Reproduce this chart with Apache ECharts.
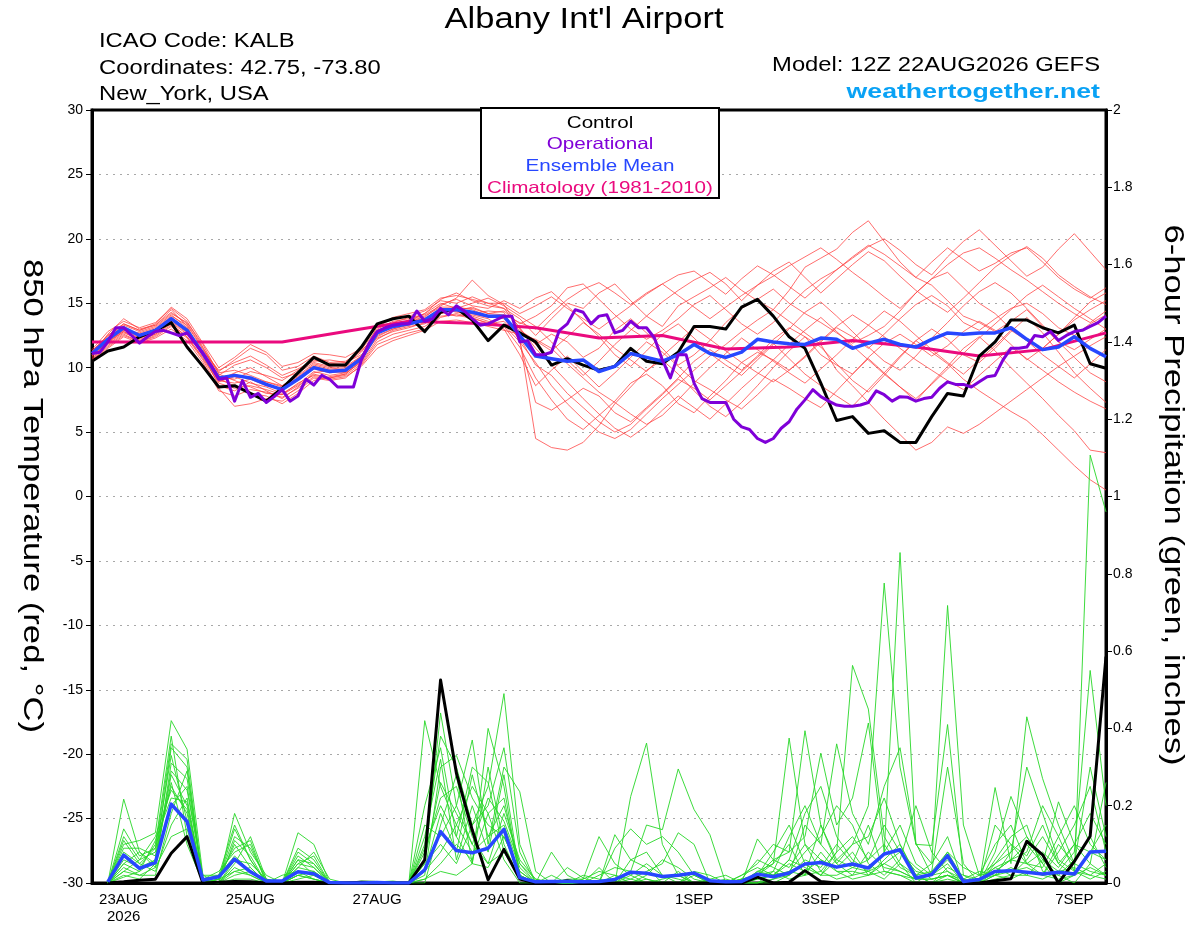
<!DOCTYPE html>
<html>
<head>
<meta charset="utf-8">
<script src="https://cdn.jsdelivr.net/npm/echarts@6/dist/echarts.min.js"></script>
<style>
html,body{margin:0;padding:0;background:#fff;}
#chart{width:1200px;height:927px;}
</style>
</head>
<body>
<div id="chart"></div>
<script>
// ---------- x axis (forecast hours since 12Z 22AUG2026) ----------
const xTickHours  = [12, 60, 108, 156, 228, 276, 324, 372];
const xTickLabels = ['23AUG\n2026', '25AUG', '27AUG', '29AUG', '1SEP', '3SEP', '5SEP', '7SEP'];

// ---------- main temperature lines (6-hourly, from hour 0) ----------
const controlTemp = [10.5,11.3,11.6,12.4,12.9,13.5,11.6,10.1,8.5,8.6,
  8.0,7.4,8.4,9.6,10.8,10.2,10.2,11.6,13.4,13.8,
  14.0,12.8,14.3,14.6,13.7,12.1,13.3,12.7,12.0,10.2,
  10.7,10.2,9.8,10.1,11.5,10.5,10.3,11.2,13.2,13.2,
  13.0,14.7,15.3,14.0,12.4,11.5,8.8,5.9,6.2,4.9,
  5.1,4.2,4.2,6.2,8.0,7.8,10.9,12.0,13.7,13.7,
  13.1,12.7,13.3,10.3,9.95];
const meanTemp = [11.1,12.2,13.1,12.5,12.9,13.8,12.9,11.1,9.2,9.4,
  9.2,8.7,8.3,9.1,10.0,9.7,9.8,10.7,12.7,13.2,
  13.4,13.7,14.5,14.5,14.3,14.0,14.0,12.5,10.9,10.7,
  10.5,10.6,9.7,10.1,11.1,10.8,10.5,11.0,11.8,11.1,
  10.8,11.2,12.2,12.0,11.85,11.8,12.3,12.2,11.5,11.9,
  12.2,11.8,11.6,12.2,12.7,12.6,12.7,12.7,13.1,12.2,
  11.4,11.6,12.4,11.5,10.85];
// operational run, 3-hourly from hour 0
const operTemp = [11.1,11.2,12.0,13.1,13.1,12.5,11.9,12.4,12.8,12.9,
  12.7,12.5,12.7,11.9,11.1,10.2,9.1,9.2,7.4,9.0,
  7.7,8.0,7.3,7.75,8.3,7.4,7.8,9.1,8.65,9.4,
  9.1,8.5,8.5,8.5,10.6,11.9,12.8,13.1,13.3,13.4,
  13.4,14.4,13.6,13.8,14.6,14.1,14.8,14.4,13.8,13.3,
  13.4,13.7,14.0,14.0,12.0,12.1,11.0,11.0,11.2,12.9,
  13.4,14.5,14.3,13.4,14.0,14.1,12.7,12.9,13.6,13.1,
  13.1,12.3,10.6,9.2,11.0,11.0,8.8,7.6,7.3,7.3,
  7.3,6.0,5.4,5.2,4.5,4.2,4.5,5.3,5.8,6.8,
  7.5,8.3,7.75,7.4,7.1,7.0,7.0,7.1,7.3,8.2,
  7.9,7.4,7.75,7.7,7.4,7.6,7.7,8.4,8.9,8.7,
  8.7,8.5,8.9,9.3,9.4,10.6,11.5,11.5,11.6,12.5,
  12.4,12.8,12.1,12.5,12.8,12.9,13.2,13.5,14.0];
// climatology (daily points)
const climHours = [0,24,48,72,96,120,144,168,192,216,240,264,288,312,336,360,384];
const climTemp  = [12.0,12.0,12.0,12.0,12.8,13.6,13.45,13.1,12.3,12.5,11.45,11.6,12.1,11.6,10.9,11.4,12.7];

// ---------- main precipitation lines (6-hourly, from hour 6) ----------
const controlPrecip = [0,0.003,0.007,0.01,0.077,0.12,0,0.002,0.004,0.003,
  0,0,0.002,0.002,0,0,0.002,0.001,0,0,
  0.06,0.525,0.284,0.137,0.008,0.087,0.01,0,0,0.006,
  0,0,0,0,0,0,0,0,0,0,
  0,0.015,0,0.002,0.032,0.004,0,0,0,0,
  0,0,0,0,0,0,0.006,0.011,0.108,0.073,
  0,0.056,0.121,0.586];
const meanPrecip = [0.003,0.072,0.038,0.053,0.204,0.159,0.008,0.016,0.062,0.029,
  0.005,0.005,0.029,0.024,0.001,0,0,0.001,0,0,
  0.034,0.133,0.084,0.078,0.09,0.139,0.014,0.003,0.004,0.004,
  0.003,0.004,0.009,0.028,0.025,0.017,0.02,0.026,0.006,0.003,
  0.004,0.023,0.016,0.026,0.049,0.053,0.041,0.049,0.039,0.075,
  0.086,0.013,0.022,0.071,0.004,0.009,0.03,0.032,0.028,0.023,
  0.028,0.023,0.08,0.082];

// ---------- ensemble members: 850 hPa temperature (6-hourly, from hour 0) ----------
const tempM01 = [11.0,12.6,13.8,13.0,13.3,14.5,13.2,11.0,8.6,8.2,8.9,8.2,7.6,8.5,9.6,9.8,9.6,10.9,13.2,13.8,14.0,14.4,15.2,15.0,15.5,15.0,14.6,13.8,
  12.5,13.8,15.0,14.6,15.8,16.5,15.2,14.0,13.2,14.8,15.5,16.2,17.0,16.0,15.2,14.5,16.0,17.8,18.5,19.2,20.5,21.4,19.8,18.2,17.0,16.4,15.2,14.0,13.5,12.8,13.6,14.5,13.2,12.0,11.4,12.2,13.0];
const tempM02 = [10.8,11.9,12.8,12.1,12.6,13.5,12.6,11.3,9.8,10.4,10.9,10.2,9.4,9.9,10.6,10.3,10.4,11.0,12.3,12.8,13.1,13.5,14.2,14.8,14.0,13.6,13.2,11.6,
  9.2,7.5,6.0,5.2,6.3,7.4,8.8,9.5,8.6,7.2,6.5,7.8,9.0,10.4,11.2,10.6,9.8,10.8,12.0,13.1,12.4,11.5,12.6,13.8,14.9,15.6,14.8,13.5,12.9,13.8,14.6,15.0,14.2,13.1,12.5,13.4,14.1];
const tempM03 = [11.3,12.4,13.3,12.8,13.2,14.2,13.5,11.8,9.5,9.0,8.5,8.0,7.9,8.8,9.4,9.2,9.5,10.5,12.6,13.5,13.9,14.1,14.8,15.4,16.8,15.6,14.9,13.0,
  11.8,12.6,12.0,10.8,11.5,12.9,13.8,12.7,11.5,10.2,11.0,12.1,13.5,14.6,15.3,16.1,15.0,14.2,13.5,12.7,11.9,12.5,13.2,14.4,15.8,16.9,17.4,16.2,15.0,14.2,13.0,12.1,11.5,12.6,13.9,15.1,15.8];
const tempM04 = [10.6,11.6,12.5,12.0,12.4,13.2,12.3,10.6,8.4,7.0,7.2,7.6,7.4,8.2,9.2,9.0,9.2,10.2,11.8,12.3,12.7,13.0,13.9,14.2,13.9,13.4,13.6,12.2,
  4.5,3.8,3.6,4.2,5.5,7.2,8.5,9.8,10.6,9.5,8.2,7.0,6.2,7.3,8.6,10.0,11.3,12.4,11.6,10.3,9.0,8.1,9.4,10.8,12.1,13.0,12.2,11.0,10.4,11.5,12.8,13.9,12.7,11.2,9.6,8.4,7.3];
const tempM05 = [11.2,12.2,13.0,12.3,12.8,13.6,12.7,10.9,9.0,9.6,10.0,9.3,8.6,9.4,10.3,10.0,10.1,10.9,12.9,13.4,13.6,13.8,14.6,14.3,14.2,14.4,14.3,12.0,
  7.3,6.7,7.5,8.4,7.8,6.5,5.8,6.9,8.0,9.2,10.5,11.4,10.6,9.8,10.9,12.2,13.1,12.4,11.0,10.2,9.5,10.8,11.9,12.6,11.8,10.9,11.7,12.8,13.6,12.9,11.8,10.6,11.5,12.6,13.7,14.5,15.2];
const tempM06 = [10.9,12.0,12.9,12.6,13.0,14.0,13.3,11.4,9.6,9.8,9.4,8.9,8.6,9.3,10.2,9.9,10.0,10.8,12.5,13.0,13.3,13.6,14.2,14.6,14.6,14.2,14.4,13.4,
  14.0,14.8,16.2,16.5,15.3,14.1,13.0,12.2,12.9,13.8,14.9,15.6,14.5,13.4,12.6,13.5,14.8,16.0,16.9,17.6,18.5,19.4,20.0,19.1,18.0,17.2,18.6,19.8,20.7,19.5,18.3,17.1,17.8,19.2,20.4,19.0,17.6];
const tempM07 = [11.4,12.8,13.6,13.1,13.5,14.6,13.6,11.6,9.3,9.1,9.7,9.4,9.0,9.8,10.5,10.6,10.4,11.4,13.0,13.6,13.8,13.9,14.9,15.3,14.8,14.6,15.2,14.6,
  15.4,15.9,14.8,13.6,12.4,11.0,10.1,11.3,12.6,13.4,12.3,11.1,10.2,9.4,10.6,11.8,13.0,14.3,15.1,14.0,12.8,11.6,10.5,9.8,10.9,12.3,13.5,14.8,15.9,16.6,15.8,14.6,13.3,12.0,10.8,9.6,8.9];
const tempM08 = [10.7,11.8,12.7,12.2,12.6,13.4,12.4,10.8,8.9,9.3,8.8,8.5,8.0,8.7,9.7,9.4,9.6,10.4,12.2,12.9,13.2,13.4,14.3,14.0,14.1,13.8,13.0,11.0,
  8.6,9.8,10.9,9.7,8.5,9.6,10.8,12.0,11.2,10.1,9.0,8.3,7.5,6.8,7.9,9.1,8.4,7.6,6.9,8.2,9.5,10.7,9.6,8.5,7.4,8.8,10.1,11.5,12.4,11.3,10.0,8.8,7.6,6.3,5.1,3.6,3.4];
const tempM09 = [11.0,12.3,13.2,12.4,12.8,13.9,13.0,11.2,9.4,10.2,10.6,10.0,9.2,9.6,10.4,10.1,10.3,11.2,12.8,13.1,13.5,14.0,14.7,14.7,14.5,14.0,13.8,12.3,
  10.2,9.4,8.0,6.9,5.8,5.0,5.6,6.8,7.9,9.1,8.4,7.5,8.6,9.7,10.8,11.9,10.7,9.5,8.6,7.8,7.0,8.3,9.6,10.9,12.1,11.2,10.3,9.1,8.2,7.4,6.6,5.9,4.8,3.6,2.4,1.3,0.5];
const tempM10 = [11.1,12.1,12.9,12.7,13.1,14.1,13.1,11.0,9.1,8.6,8.0,7.8,7.2,8.0,9.0,9.3,9.5,10.6,12.9,13.3,13.6,14.2,15.0,14.6,15.0,15.4,14.8,14.0,
  13.2,12.0,10.6,9.4,10.5,11.8,12.9,14.0,15.1,16.0,16.8,17.4,16.5,15.2,16.4,17.5,18.2,17.0,15.8,16.9,18.0,19.0,18.3,17.1,16.0,15.1,14.3,15.4,16.6,17.8,18.7,19.4,18.5,17.2,16.3,15.5,14.9];
const tempM11 = [10.5,11.5,12.4,11.9,12.3,13.0,12.1,10.4,8.2,7.8,8.3,8.1,7.7,8.4,9.3,9.1,9.3,10.1,11.5,12.1,12.5,12.9,13.6,13.7,13.5,13.2,12.9,12.6,
  12.2,11.5,10.3,9.2,8.1,7.3,6.4,5.6,6.3,7.5,8.8,10.0,11.1,12.3,11.4,10.5,9.6,8.8,9.9,11.0,12.2,13.3,14.4,13.6,12.5,11.4,10.4,9.5,10.6,11.7,12.9,12.1,11.0,10.1,9.2,10.3,11.4];
const tempM12 = [11.2,12.5,13.4,12.9,13.3,14.3,13.4,11.5,9.7,10.6,11.5,11.0,9.8,10.1,10.9,10.4,10.5,11.3,12.6,13.2,13.7,14.2,15.3,15.8,15.2,14.8,14.6,13.1,
  11.5,10.2,8.9,7.6,6.4,5.3,4.6,5.5,6.7,7.8,6.9,6.0,7.2,8.4,9.5,10.6,11.8,12.9,13.9,12.8,11.7,10.6,9.5,8.5,7.6,8.7,9.9,11.1,12.3,13.4,14.5,15.6,16.4,15.5,14.6,13.8,13.0];
const tempM13 = [10.9,12.0,12.8,12.3,12.7,13.7,12.8,11.1,9.2,9.5,9.1,8.6,8.3,9.0,9.9,9.6,9.7,10.6,12.4,13.0,13.4,13.6,14.4,14.4,14.7,14.2,14.1,13.5,
  13.0,14.2,15.3,16.1,16.6,15.8,14.9,15.8,16.5,17.2,17.5,16.6,15.7,16.9,17.9,17.2,16.3,15.4,16.5,17.6,18.6,19.5,18.8,17.9,17.0,18.2,19.3,18.4,17.5,18.1,18.9,19.3,18.2,17.0,16.1,15.4,16.2];
const tempM14 = [11.0,12.2,13.0,12.5,12.9,13.7,12.8,11.0,9.0,8.8,9.1,8.9,8.5,9.2,10.1,9.8,9.9,10.9,12.8,13.3,13.5,13.8,14.5,14.4,14.2,13.9,13.9,12.9,
  12.1,11.3,12.4,13.5,12.6,11.5,10.6,9.7,10.9,12.0,13.1,12.2,11.3,10.4,9.6,8.9,9.8,10.9,12.1,13.2,14.1,13.3,12.4,11.5,10.6,9.8,9.0,8.3,9.4,10.5,11.6,10.7,9.8,8.9,8.1,7.4,6.8];
const tempM15 = [11.3,12.5,13.4,12.9,13.4,14.7,13.8,11.9,10.0,10.8,11.8,11.2,10.1,10.4,11.1,11.0,10.8,11.5,13.3,13.9,14.2,14.5,15.4,15.6,15.3,15.0,15.0,14.2,
  14.8,15.5,14.6,13.8,13.0,13.9,14.8,15.7,16.5,15.6,14.7,13.8,14.7,15.6,16.4,17.1,17.9,18.6,19.3,18.4,17.4,16.5,15.5,14.6,15.8,16.9,18.0,18.9,19.3,18.5,17.6,16.8,15.9,15.0,14.2,13.5,14.4];
const tempM16 = [10.6,11.7,12.6,12.0,12.5,13.3,12.4,10.7,8.8,8.4,8.6,8.3,7.9,8.6,9.5,9.2,9.4,10.3,12.0,12.6,12.9,13.2,14.0,14.1,13.8,13.5,13.3,12.0,
  10.4,8.6,7.2,6.0,5.0,4.5,5.2,6.4,7.6,8.7,9.8,10.9,11.8,12.8,13.7,14.5,13.6,12.7,11.8,9.8,8.6,7.3,6.0,4.8,3.6,4.2,5.4,4.9,5.6,6.5,7.4,8.3,9.2,10.1,10.9,11.7,12.4];

// ---------- ensemble members: 6-hour precipitation (6-hourly, from hour 6) ----------
const precipM01 = [0,0.217,0.08,0.05,0.28,0.20,0.01, 0.02,0.15,0.06,0,0,0.03,0.01, 0,0,0,0,0,0,
  0.05,0.44,0.20,0.10,0.05,0.08,0.02,0,0,0.01, 0.01,0.12,0.05,0.02,0,0,0.03,0,0,0,
  0,0.02,0.05,0.375,0.10,0.03,0.08,0.563,0.45,0.12,0.05,0,0,0.02,0,0,0.05,0.08,0.12,0.06,0.02,0,0.05,0.02];
const precipM02 = [0,0.10,0.11,0.13,0.42,0.346,0.02, 0,0.05,0.12,0.01,0,0.13,0.10, 0,0,0,0,0,0,
  0.42,0.25,0.15,0.08,0.12,0.20,0.05,0,0,0, 0,0,0.125,0.06,0.04,0,0,0.02,0,0,
  0,0.114,0.06,0.08,0.394,0.15,0.05,0.10,0.20,0.776,0.30,0.10,0.05,0.718,0.15,0.02,0.03,0.06,0.10,0.05,0,0.02,1.107,0.96];
const precipM03 = [0,0.05,0.03,0.06,0.35,0.30,0, 0.01,0.10,0.04,0,0,0.06,0.05, 0,0,0.005,0.004,0,0,
  0.10,0.38,0.30,0.15,0.25,0.49,0.10,0,0,0, 0,0,0,0.224,0.362,0.10,0.02,0,0,0,
  0.02,0.05,0.10,0.08,0.12,0.336,0.15,0.22,0.414,0.08,0.855,0.10,0.097,0.41,0.02,0,0.08,0.224,0.12,0.05,0.21,0.10,0.05,0.26];
const precipM04 = [0,0.14,0.07,0.09,0.25,0.18,0, 0,0.18,0.08,0.02,0,0.02,0.03, 0,0,0,0,0,0,
  0.02,0.30,0.33,0.22,0.15,0.12,0.03,0,0,0, 0,0.02,0.04,0.03,0.15,0.138,0.295,0.19,0.125,0,
  0,0,0.03,0.12,0.20,0.10,0.36,0.18,0.10,0.25,0.35,0.103,0.02,0.08,0.01,0,0.247,0.05,0.43,0.27,0.15,0.05,0.30,0.12];
const precipM05 = [0,0.03,0.02,0.04,0.31,0.27,0.01, 0.03,0.08,0.10,0,0,0.09,0.06, 0,0,0,0,0,0,
  0.15,0.12,0.20,0.37,0.10,0.30,0.236,0.03,0,0, 0,0,0,0.06,0.08,0.02,0.01,0,0,0,
  0,0.03,0.02,0.06,0.18,0.25,0.12,0.06,0.03,0.08,0.15,0.05,0.02,0.06,0.01,0,0.03,0.06,0.08,0.20,0.12,0.2,0.10,0.06];
const precipM06 = [0,0.08,0.05,0.03,0.15,0.22,0, 0,0.02,0.03,0,0,0.01,0.02, 0,0,0,0,0,0,
  0.01,0.05,0.10,0.06,0.18,0.22,0.02,0,0,0.04, 0.013,0,0.09,0.14,0.10,0.12,0.08,0.02,0,0,
  0.01,0.02,0.08,0.15,0.05,0.02,0.06,0.10,0.12,0.22,0.10,0.02,0.05,0.12,0,0.02,0.10,0.15,0.05,0.02,0.08,0.15,0.25,0.08];
const precipM07 = [0,0.06,0.04,0.10,0.38,0.12,0, 0.01,0.12,0.09,0.01,0,0.04,0.08, 0.01,0,0,0,0,0,
  0.20,0.35,0.12,0.05,0.40,0.25,0.01,0,0.08,0.02, 0,0,0,0.01,0.03,0.05,0.13,0.10,0,0,
  0,0,0.01,0.03,0.08,0.12,0.20,0.15,0.05,0.02,0.06,0.20,0.08,0.03,0,0,0.02,0.04,0.02,0.06,0.03,0.08,0.55,0.20];
const precipM08 = [0,0.02,0.01,0.05,0.20,0.25,0.01, 0,0.04,0.02,0,0,0.07,0.04, 0,0,0,0,0,0,
  0.03,0.18,0.08,0.28,0.12,0.15,0.04,0,0,0, 0,0.04,0,0,0.02,0.06,0.04,0.01,0,0,
  0,0.01,0.02,0.05,0.03,0.06,0.04,0.08,0.02,0.05,0.03,0.01,0.02,0.05,0,0.01,0.02,0.03,0.04,0.02,0.10,0.05,0.03,0.02];
const precipM09 = [0,0.12,0.06,0.08,0.33,0.16,0, 0.02,0.09,0.11,0,0.02,0.03,0.02, 0,0,0,0,0,0,
  0.08,0.22,0.25,0.12,0.05,0.18,0.06,0.01,0,0, 0,0,0,0.02,0.05,0.02,0,0,0,0,
  0.01,0.06,0.04,0.02,0.06,0.04,0.10,0.05,0.15,0.03,0.02,0,0.03,0.30,0.05,0,0.06,0.12,0.15,0.03,0.02,0.06,0.12,0.04];
const precipM10 = [0,0.04,0.02,0.02,0.18,0.29,0, 0,0.06,0.05,0.01,0,0.05,0.07, 0,0,0,0,0,0,
  0.05,0.10,0.05,0.15,0.20,0.35,0.08,0,0,0, 0,0,0,0,0.01,0,0,0.03,0.02,0,
  0,0.03,0.05,0.10,0.02,0.08,0.03,0.03,0.02,0.06,0.10,0.02,0,0.04,0.02,0.01,0.04,0.02,0.06,0.12,0.05,0.02,0.08,0.15];
const precipM11 = [0,0.09,0.09,0.07,0.26,0.10,0, 0.01,0.03,0.02,0,0,0.02,0.01, 0,0,0,0,0,0,
  0,0.15,0.28,0.05,0.30,0.10,0.01,0,0,0, 0.02,0.01,0,0,0,0,0,0,0,0.01,
  0,0,0.01,0.02,0.15,0.10,0.05,0.02,0.08,0.04,0.03,0.01,0.01,0.02,0,0,0.15,0.10,0.05,0.04,0.12,0.03,0.01,0.03];
const precipM12 = [0,0.015,0.03,0.11,0.22,0.21,0, 0,0.11,0.07,0,0,0.08,0.05, 0,0,0,0.003,0.005,0,
  0.12,0.32,0.06,0.20,0.08,0.28,0.02,0,0,0, 0,0,0.02,0.01,0,0,0,0,0,0,
  0.02,0.04,0.02,0.06,0.04,0.02,0.02,0.04,0.06,0.15,0.08,0.03,0.02,0.03,0.01,0.03,0.02,0.08,0.30,0.18,0.06,0.03,0.02,0.05];
const precipM13 = [0,0.07,0.04,0.06,0.29,0.24,0.02, 0.02,0.07,0.03,0,0,0.04,0.03, 0,0,0,0,0,0,
  0.03,0.08,0.15,0.25,0.18,0.06,0,0,0,0, 0,0,0,0,0,0.01,0.02,0,0,0,
  0,0.02,0.03,0.01,0.02,0.03,0.01,0.02,0.03,0.01,0.05,0.02,0,0.01,0,0,0.01,0.02,0.02,0.01,0.03,0.04,0.02,0.01];
const precipM14 = [0,0.05,0.08,0.04,0.12,0.14,0, 0,0.01,0.01,0,0,0.02,0.01, 0,0,0,0,0,0,
  0.06,0.26,0.18,0.10,0.22,0.16,0.05,0.01,0,0, 0.01,0.03,0.02,0,0,0,0,0,0,0,
  0,0,0,0.02,0.05,0.02,0.08,0.12,0.06,0.10,0.04,0.02,0.03,0.08,0.04,0.02,0.05,0.10,0.07,0.15,0.05,0.10,0.08,0.06];
const precipM15 = [0,0.11,0.05,0.09,0.36,0.32,0, 0.01,0.14,0.06,0,0,0.05,0.04, 0,0,0,0,0,0,
  0.01,0.03,0.02,0.05,0.04,0.12,0.03,0,0,0, 0,0,0,0,0,0,0,0,0,0,
  0.01,0.02,0.06,0.04,0.10,0.06,0.03,0.01,0.02,0.03,0.02,0.01,0.01,0.02,0.01,0,0.02,0.01,0.03,0.02,0.01,0.02,0.04,0.02];
const precipM16 = [0,0.03,0.06,0.12,0.24,0.19,0, 0,0.03,0.04,0,0,0.06,0.02, 0,0,0,0,0,0,
  0.09,0.20,0.12,0.30,0.26,0.08,0.01,0,0.02,0, 0,0,0,0.03,0.01,0,0,0,0.01,0.02,
  0,0.01,0.02,0.03,0.02,0.15,0.06,0.04,0.03,0.05,0.08,0.04,0.01,0.02,0,0.01,0.04,0.06,0.05,0.08,0.04,0.10,0.18,0.10];

const tempMembers = [tempM01,tempM02,tempM03,tempM04,tempM05,tempM06,tempM07,tempM08,
                     tempM09,tempM10,tempM11,tempM12,tempM13,tempM14,tempM15,tempM16];
const precipMembers = [precipM01,precipM02,precipM03,precipM04,precipM05,precipM06,precipM07,precipM08,
                       precipM09,precipM10,precipM11,precipM12,precipM13,precipM14,precipM15,precipM16];

// ---------- helpers: attach forecast hour to each value ----------
function withHours(values, stepHours, firstHour) {
  return values.map((v, k) => [firstHour + k * stepHours, v]);
}

const FONT = 'Liberation Sans, Arial, Helvetica, sans-serif';
const chart = echarts.init(document.getElementById('chart'), null, {renderer: 'canvas'});

function lineSeries(data, yAxisIndex, color, width, z) {
  return {
    type: 'line', data, yAxisIndex, z,
    symbol: 'none', showSymbol: false, silent: true, animation: false,
    lineStyle: {color, width, join: 'round'},
    itemStyle: {color},
    emphasis: {disabled: true}
  };
}

const series = [];
tempMembers.forEach(m => series.push(lineSeries(withHours(m, 6, 0), 0, 'rgba(255,60,60,0.75)', 1, 2)));
precipMembers.forEach(m => series.push(lineSeries(withHours(m, 6, 6), 1, 'rgba(40,215,40,0.9)', 1, 2)));
series.push(lineSeries(climHours.map((h, k) => [h, climTemp[k]]), 0, '#ea0a7e', 3, 3));
series.push(lineSeries(withHours(controlTemp, 6, 0), 0, '#000000', 3, 4));
series.push(lineSeries(withHours(meanTemp, 6, 0), 0, '#2747ff', 3.5, 5));
series.push(lineSeries(withHours(operTemp, 3, 0), 0, '#7f00d8', 3, 6));
series.push(lineSeries(withHours(controlPrecip, 6, 6), 1, '#000000', 3, 4));
series.push(lineSeries(withHours(meanPrecip, 6, 6), 1, '#2747ff', 3.5, 5));

function gText(text, x, y, size, color, align, opts) {
  return Object.assign({
    type: 'text', x, y, z: 110, silent: true,
    scaleX: 1.22,
    style: {
      text, fontSize: size, fontFamily: FONT, fill: color,
      align, textAlign: align, verticalAlign: 'middle', textVerticalAlign: 'middle'
    }
  }, opts || {});
}

const legendItems = [
  {text: 'Control', color: '#000000', y: 123},
  {text: 'Operational', color: '#8000d8', y: 144.5},
  {text: 'Ensemble Mean', color: '#2747ff', y: 166},
  {text: 'Climatology (1981-2010)', color: '#ea0a7e', y: 188}
];

const graphics = [
  gText("Albany Int'l Airport", 584, 19.5, 29.5, '#000', 'center', {scaleX: 1.17}),
  gText('ICAO Code: KALB', 99, 42, 19.5, '#000', 'left'),
  gText('Coordinates: 42.75, -73.80', 99, 68.5, 19.5, '#000', 'left'),
  gText('New_York, USA', 99, 94.5, 19.5, '#000', 'left'),
  gText('Model: 12Z 22AUG2026 GEFS', 1100, 65.5, 19.5, '#000', 'right'),
  {
    type: 'text', x: 1100, y: 92, z: 110, silent: true, scaleX: 1.27,
    style: {text: 'weathertogether.net', fontSize: 21, fontWeight: 'bold', fontFamily: FONT,
            fill: '#0aa2f5', align: 'right', textAlign: 'right', verticalAlign: 'middle', textVerticalAlign: 'middle'}
  },
  {
    type: 'rect', z: 105, silent: true,
    shape: {x: 481, y: 108, width: 238, height: 90},
    style: {fill: '#ffffff', stroke: '#000000', lineWidth: 2}
  },
  gText('850 hPa Temperature (red, \u00B0C)', 32, 496, 27.5, '#000', 'center', {rotation: -Math.PI / 2, scaleX: 1.26}),
  gText('6-hour Precipitation (green, inches)', 1173, 495, 27.5, '#000', 'center', {rotation: -Math.PI / 2, scaleX: 1.26})
];
legendItems.forEach(it => graphics.push(gText(it.text, 600, it.y, 16.5, it.color, 'center', {scaleX: 1.25})));

const option = {
  backgroundColor: '#ffffff',
  animation: false,
  textStyle: {fontFamily: FONT},
  grid: {left: 92, right: 94, top: 110, bottom: 44, show: true, borderColor: '#000', borderWidth: 3},
  xAxis: {
    type: 'value', min: 0, max: 384, interval: 12,
    axisLine: {show: true, onZero: false, lineStyle: {color: '#000', width: 3}},
    axisTick: {show: false},
    splitLine: {show: false},
    axisLabel: {
      color: '#000', fontSize: 15, fontFamily: FONT, margin: 8, lineHeight: 17,
      showMinLabel: true, showMaxLabel: true,
      formatter: v => { const k = xTickHours.indexOf(Math.round(v)); return k < 0 ? '' : xTickLabels[k]; }
    }
  },
  yAxis: [
    {
      type: 'value', min: -30, max: 30, interval: 5, position: 'left',
      axisLine: {show: true, onZero: false, lineStyle: {color: '#000', width: 3}},
      axisTick: {show: true, length: 6, lineStyle: {color: '#000', width: 1}},
      axisLabel: {color: '#000', fontSize: 14, fontFamily: FONT, margin: 9},
      splitLine: {show: true, showMinLine: false, showMaxLine: false,
                  lineStyle: {color: '#a8a8a8', width: 1, type: [2, 5]}}
    },
    {
      type: 'value', min: 0, max: 2, interval: 0.2, position: 'right',
      axisLine: {show: true, onZero: false, lineStyle: {color: '#000', width: 3}},
      axisTick: {show: true, length: 6, lineStyle: {color: '#000', width: 1}},
      axisLabel: {color: '#000', fontSize: 14, fontFamily: FONT, margin: 7,
                  formatter: v => String(Math.round(v * 10) / 10)},
      splitLine: {show: false}
    }
  ],
  series,
  graphic: {elements: graphics}
};
chart.setOption(option);
</script>
</body>
</html>
